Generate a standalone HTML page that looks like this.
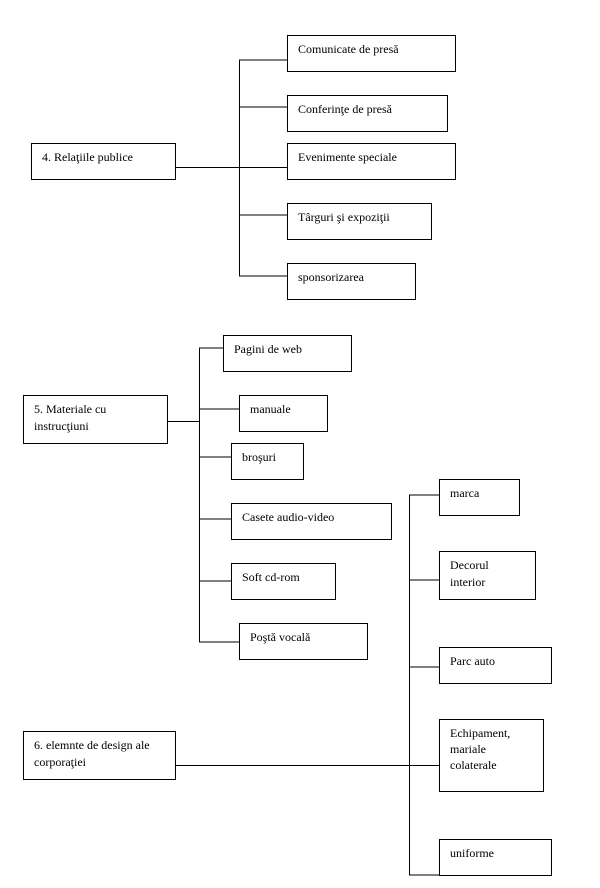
<!DOCTYPE html>
<html><head><meta charset="utf-8"><style>
body{margin:0;background:#fff;width:600px;height:888px;position:relative;overflow:hidden;font-family:"Liberation Serif",serif;font-size:12px;color:#000}
.b{position:absolute;box-sizing:border-box;border:1px solid #000;padding:5px 0 0 10px;line-height:17px;background:#fff}
svg{position:absolute;left:0;top:0}
</style></head><body>
<svg width="600" height="888" stroke="#000" stroke-width="1" fill="none" shape-rendering="crispEdges">
<path d="M175 167.5H287M239.5 60V276M239 60H287M239 107H287M239 215H287M239 276H287"/>
<path d="M167 421.5H199M199.5 348V642M199 348H223M199 409H239M199 457H231M199 519H231M199 581H231M199 642H239"/>
<path d="M175 765.5H439M409.5 495V875M409 495H439M409 580H439M409 667H439M409 875H439"/>
</svg>
<div class="b" style="left:31px;top:143px;width:145px;height:37px">4. Relaţiile publice</div>
<div class="b" style="left:287px;top:35px;width:169px;height:37px">Comunicate de presă</div>
<div class="b" style="left:287px;top:95px;width:161px;height:37px">Conferinţe de presă</div>
<div class="b" style="left:287px;top:143px;width:169px;height:37px">Evenimente speciale</div>
<div class="b" style="left:287px;top:203px;width:145px;height:37px">Târguri şi expoziţii</div>
<div class="b" style="left:287px;top:263px;width:129px;height:37px">sponsorizarea</div>
<div class="b" style="left:23px;top:395px;width:145px;height:49px;padding-right:50px">5. Materiale cu instrucţiuni</div>
<div class="b" style="left:223px;top:335px;width:129px;height:37px">Pagini de web</div>
<div class="b" style="left:239px;top:395px;width:89px;height:37px">manuale</div>
<div class="b" style="left:231px;top:443px;width:73px;height:37px">broşuri</div>
<div class="b" style="left:231px;top:503px;width:161px;height:37px">Casete audio-video</div>
<div class="b" style="left:231px;top:563px;width:105px;height:37px">Soft cd-rom</div>
<div class="b" style="left:239px;top:623px;width:129px;height:37px">Poştă vocală</div>
<div class="b" style="left:23px;top:731px;width:153px;height:49px">6. elemnte de design ale corporaţiei</div>
<div class="b" style="left:439px;top:479px;width:81px;height:37px">marca</div>
<div class="b" style="left:439px;top:551px;width:97px;height:49px;padding-right:30px">Decorul interior</div>
<div class="b" style="left:439px;top:647px;width:113px;height:37px">Parc auto</div>
<div class="b" style="left:439px;top:719px;width:105px;height:73px;line-height:16px;padding-right:20px">Echipament, mariale colaterale</div>
<div class="b" style="left:439px;top:839px;width:113px;height:37px">uniforme</div>
</body></html>
